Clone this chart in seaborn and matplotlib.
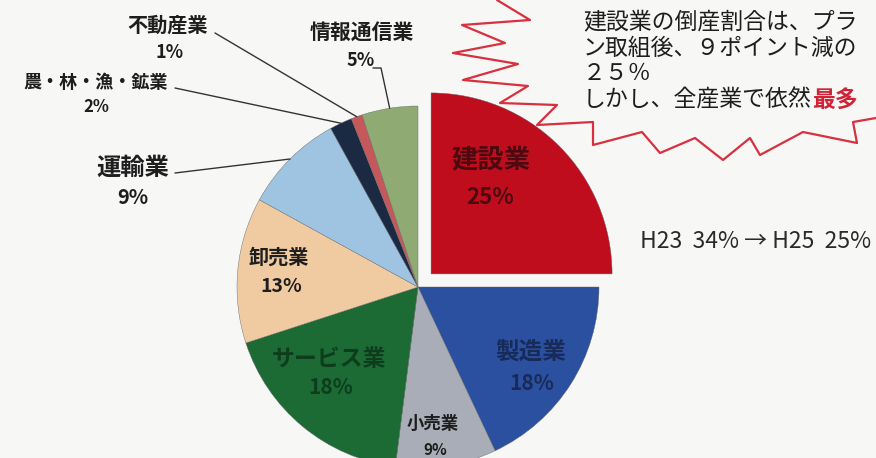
import seaborn as sns
import matplotlib.pyplot as plt
import numpy as np

# data
industries = ['建設業', '製造業', '小売業', 'サービス業', '卸売業', '運輸業',
              '農・林・漁・鉱業', '不動産業', '情報通信業']
shares = [25, 18, 9, 18, 13, 9, 2, 1, 5]
colors = ['#c00d1e', '#2b50a0', '#a9adb8', '#1c6a34', '#f0cba2', '#9ec4e2',
          '#1b2a42', '#c4585a', '#8faa72']
note_lines = ['建設業の倒産割合は、プラ', 'ン取組後、９ポイント減の', '２５％', 'しかし、全産業で依然']
note_red = '最多'
compare_text = 'H23  34% → H25  25%'

sns.set_theme(style='white')
plt.rcParams['font.family'] = ['Noto Sans CJK JP', 'DejaVu Sans']

W, H = 876, 458
fig = plt.figure(figsize=(8.76, 4.58), dpi=100, facecolor='#f7f7f5')
ax = fig.add_axes([0, 0, 1, 1])

def iy(y):
    # image row -> data y
    return H - y

# zigzag callout border
zz = [(497, 0), (530, 20), (462, 25), (505, 43), (453, 53), (518, 64), (463, 80),
      (528, 86), (500, 103), (557, 105), (537, 125), (593, 122), (593, 145),
      (642, 132), (660, 153), (695, 138), (723, 160), (750, 138), (760, 155),
      (803, 132), (857, 143), (853, 122), (876, 118)]
ax.plot([p[0] for p in zz], [iy(p[1]) for p in zz], color='#d8303e', lw=1.6, zorder=1)

# explode offset is in data units (pixels here)
explode = [18.5] + [0] * (len(shares) - 1)
wedges, _ = ax.pie(shares, colors=colors, startangle=90, counterclock=False,
                   explode=explode, radius=181, center=(418, iy(287)),
                   wedgeprops=dict(linewidth=0.3, edgecolor='#666666'),
                   frame=True)
ax.set_xlim(0, W)
ax.set_ylim(0, H)
ax.set_aspect('equal')
ax.axis('off')

def label(i, x, y, x2, y2, color='#1e1e1e', size=14, size2=None):
    ax.text(x, iy(y), industries[i], color=color, fontsize=size,
            fontweight='bold', ha='center', va='center')
    ax.text(x2, iy(y2), f'{shares[i]}%', color=color, fontsize=size2 or size * 0.9,
            fontweight='bold', ha='center', va='center')

def arc_point(i):
    w = wedges[i]
    a = np.deg2rad((w.theta1 + w.theta2) / 2)
    cx, cy = w.center
    return cx + w.r * np.cos(a), cy + w.r * np.sin(a)

# inside labels
label(0, 491, 161, 490, 197, color='#4a0a10', size=19, size2=16)
label(1, 531, 352, 532, 384, color='#172a58', size=17, size2=15)
label(2, 433, 424, 435, 450, size=12.5, size2=11)
label(3, 329, 360, 331, 388, color='#0d3d1c', size=16.5, size2=15)
label(4, 279, 257, 281, 286, size=14.5, size2=14)

# outside labels with leader lines
lc = dict(color='#333333', lw=1.0, zorder=4)
label(7, 168, 25, 170, 52, size=14.5, size2=13)
x1, y1 = arc_point(7)
ax.plot([215, x1], [iy(33), y1], **lc)

label(6, 96, 83, 96, 107, size=13, size2=12)
x1, y1 = arc_point(6)
ax.plot([175, x1], [iy(88), y1], **lc)

label(5, 133, 168, 133, 198, size=17.5, size2=14.5)
x1, y1 = arc_point(5)
ax.plot([175, x1], [iy(173), y1], **lc)

label(8, 362, 32, 361, 61, size=15, size2=13)
x1, y1 = arc_point(8)
ax.plot([373, 381, x1], [iy(68), iy(68), y1], **lc)

# callout text
t = None
for k, line in enumerate(note_lines):
    t = ax.text(583, iy(22 + 26 * k), line, fontsize=16.5, color='#1e1e1e',
                ha='left', va='center')
ax.annotate(note_red, xy=(1, 0), xycoords=t, fontsize=16.5, fontweight='bold',
            color='#d02436', ha='left', va='bottom')

ax.text(640, iy(242), compare_text, fontsize=16.5, color='#2a2a2a',
        ha='left', va='center')

fig.savefig('out.png', dpi=100, facecolor=fig.get_facecolor())
